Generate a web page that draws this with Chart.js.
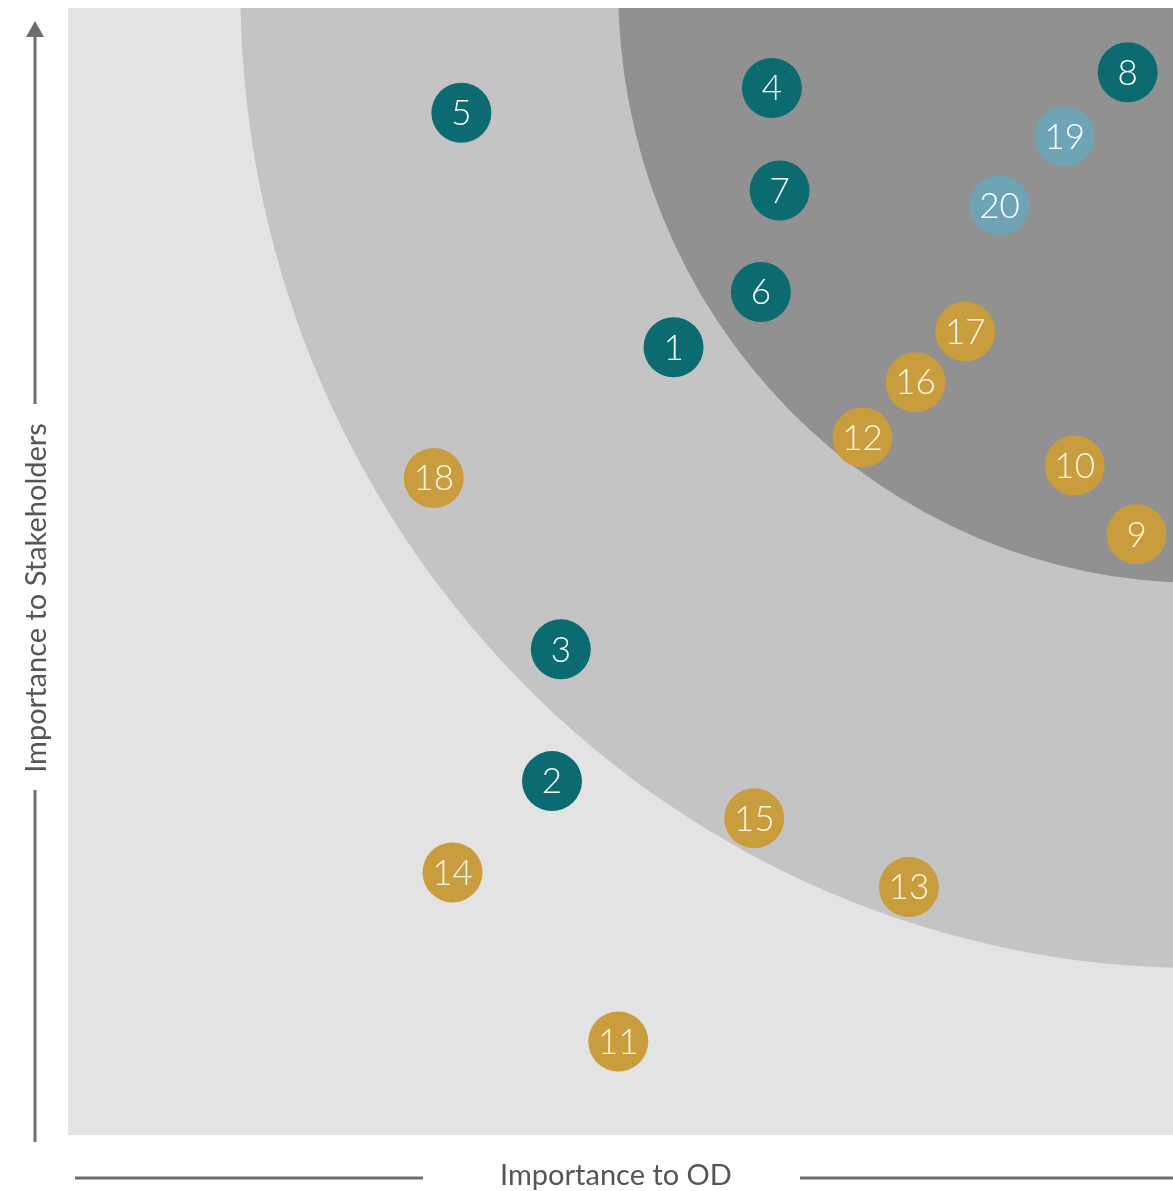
<!DOCTYPE html>
<html>
<head>
<meta charset="utf-8">
<script src="https://cdn.jsdelivr.net/npm/chart.js@4.4.1/dist/chart.umd.min.js"></script>
<style>
  html, body { margin: 0; padding: 0; background: #fff; }
  #wrap { width: 1173px; height: 1191px; position: relative; }
</style>
</head>
<body>
<div id="wrap"><canvas id="matrix" width="1173" height="1191"></canvas></div>
<script>
// ===== data =====
const issueIds = [1, 2, 3, 4, 5, 6, 7, 8, 9, 10, 11, 12, 13, 14, 15, 16, 17, 18, 19, 20];
const odImportance = [54.8, 43.8, 44.6, 63.7, 35.6, 62.7, 64.4, 95.9, 96.7, 91.1, 49.8, 71.9, 76.1, 34.8, 62.1, 76.7, 81.2, 33.1, 90.2, 84.3];
const stakeholderImportance = [69.9, 31.4, 43.1, 92.9, 90.7, 74.8, 83.8, 94.3, 53.3, 59.4, 8.3, 61.9, 22.0, 23.3, 28.1, 66.8, 71.3, 58.3, 88.6, 82.5];
const issueGroup = ['teal', 'teal', 'teal', 'teal', 'teal', 'teal', 'teal', 'teal', 'gold', 'gold', 'gold', 'gold', 'gold', 'gold', 'gold', 'gold', 'gold', 'gold', 'blue', 'blue'];

// priority zones: quarter circles around the top-right corner (data units)
const zoneCenter = [102.4, 101.6];
const zoneRadii = [86.8, 52.6];
const zoneColors = ['#c4c4c4', '#919191'];

const groupColors = { teal: '#0c6b70', gold: '#c99d3e', blue: '#6ea4b5' };
const groupText = { teal: '#ffffff', gold: '#fff8e6', blue: '#ffffff' };

// ===== plugins =====
const zonesPlugin = {
  id: 'zones',
  beforeDatasetsDraw(chart) {
    const { ctx, chartArea: a, scales: { x, y } } = chart;
    ctx.save();
    ctx.fillStyle = '#e3e3e3';
    ctx.fillRect(a.left, a.top, a.right - a.left, a.bottom - a.top);
    ctx.beginPath();
    ctx.rect(a.left, a.top, a.right - a.left, a.bottom - a.top);
    ctx.clip();
    const cx = x.getPixelForValue(zoneCenter[0]);
    const cy = y.getPixelForValue(zoneCenter[1]);
    zoneRadii.forEach((r, i) => {
      const rx = cx - x.getPixelForValue(zoneCenter[0] - r);
      const ry = y.getPixelForValue(zoneCenter[1] - r) - cy;
      ctx.beginPath();
      ctx.ellipse(cx, cy, rx, ry, 0, 0, Math.PI * 2);
      ctx.fillStyle = zoneColors[i];
      ctx.fill();
    });
    ctx.restore();
  }
};

const labelsPlugin = {
  id: 'bubbleLabels',
  afterDatasetsDraw(chart) {
    const { ctx } = chart;
    const meta = chart.getDatasetMeta(0);
    ctx.save();
    ctx.font = '300 35px Lato, "Open Sans", sans-serif';
    ctx.textAlign = 'center';
    ctx.textBaseline = 'middle';
    meta.data.forEach((pt, i) => {
      ctx.fillStyle = groupText[issueGroup[i]];
      ctx.fillText(String(issueIds[i]), pt.x, pt.y + 1);
    });
    ctx.restore();
  }
};

// axis arrows + titles drawn outside the plot area
const axisPlugin = {
  id: 'axisTitles',
  afterDraw(chart) {
    const { ctx } = chart;
    ctx.save();
    ctx.strokeStyle = '#6e6e6e';
    ctx.fillStyle = '#6e6e6e';
    ctx.lineWidth = 3;

    // vertical axis
    const vx = 35;
    ctx.beginPath();
    ctx.moveTo(vx, 1142); ctx.lineTo(vx, 790);
    ctx.moveTo(vx, 404); ctx.lineTo(vx, 34);
    ctx.stroke();
    ctx.beginPath();
    ctx.moveTo(vx, 21); ctx.lineTo(vx - 9, 37); ctx.lineTo(vx + 9, 37);
    ctx.closePath();
    ctx.fill();

    // horizontal axis
    ctx.beginPath();
    ctx.moveTo(75, 1178); ctx.lineTo(423, 1178);
    ctx.moveTo(800, 1178); ctx.lineTo(1173, 1178);
    ctx.stroke();

    ctx.fillStyle = '#555555';
    ctx.font = '29px Lato, "Open Sans", sans-serif';
    ctx.textAlign = 'center';
    ctx.textBaseline = 'middle';
    ctx.fillText('Importance to OD', 616, 1176);

    ctx.translate(37, 598);
    ctx.rotate(-Math.PI / 2);
    ctx.fillText('Importance to Stakeholders', 0, 0);
    ctx.restore();
  }
};

// ===== chart =====
const points = issueIds.map((id, i) => ({ x: odImportance[i], y: stakeholderImportance[i] }));

new Chart(document.getElementById('matrix'), {
  type: 'scatter',
  data: {
    datasets: [{
      label: 'Issues',
      data: points,
      pointRadius: 30,
      pointHoverRadius: 30,
      pointBorderWidth: 0,
      backgroundColor: issueGroup.map(g => groupColors[g]),
      borderColor: issueGroup.map(g => groupColors[g]),
      clip: false
    }]
  },
  options: {
    responsive: false,
    animation: false,
    layout: { autoPadding: false, padding: { left: 68, top: 8, right: 0, bottom: 56 } },
    scales: {
      x: { type: 'linear', min: 0, max: 100, display: false },
      y: { type: 'linear', min: 0, max: 100, display: false }
    },
    plugins: {
      legend: { display: false },
      tooltip: { enabled: false }
    }
  },
  plugins: [zonesPlugin, labelsPlugin, axisPlugin]
});
</script>
</body>
</html>
